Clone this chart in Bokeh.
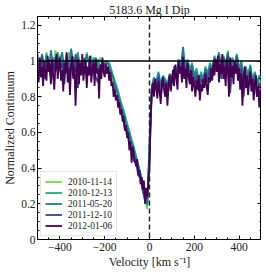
from bokeh.plotting import figure
from bokeh.models import Span, LinearAxis, Legend, LegendItem, Range1d, FixedTicker
from bokeh.embed import file_html
from bokeh.resources import INLINE

VELOCITY_COARSE = list(range(-500, 510, 10))
VELOCITY_FINE = list(range(-500, 505, 5))

DATES = ["2010-11-14", "2010-12-13", "2011-05-20", "2011-12-10", "2012-01-06"]
COLORS = ["#7ad151", "#22a884", "#2a788e", "#414487", "#440154"]

FLUX_2010_11_14 = [
    1.04, 0.97, 1.01, 0.93, 1.05, 0.98, 1.02, 0.95, 1.06, 0.99,
    1.03, 0.96, 1.00, 0.94, 1.05, 0.97, 1.02, 0.98, 1.04, 0.95,
    1.01, 0.97, 1.05, 0.99, 1.03, 0.94, 1.00, 0.96, 1.02, 0.97,
    0.99, 0.95, 0.97, 0.92, 0.88, 0.84, 0.80, 0.75, 0.71, 0.67,
    0.62, 0.58, 0.54, 0.49, 0.45, 0.40, 0.35, 0.29, 0.23, 0.17,
    0.48, 0.84, 0.90, 0.86, 0.92, 0.85, 0.90, 0.88, 0.84, 0.91,
    0.89, 0.96, 0.92, 1.00, 0.96, 1.03, 0.95, 0.99, 0.92, 0.96,
    0.89, 0.93, 0.87, 0.91, 0.89, 0.94, 0.90, 0.97, 0.93, 1.01,
    0.97, 1.04, 0.94, 1.01, 0.98, 1.06, 0.92, 0.99, 0.96, 1.03,
    0.93, 0.98, 0.88, 0.94, 0.90, 0.96, 0.87, 0.92, 0.86, 0.91,
    0.87,
]
FLUX_2010_12_13 = [
    1.03, 0.97, 1.00, 0.95, 1.04, 0.99, 0.96, 1.02, 0.97, 1.05,
    0.98, 1.01, 0.96, 1.04, 0.99, 0.95, 1.02, 0.98, 1.05, 0.96,
    1.00, 0.97, 1.03, 0.99, 0.96, 1.02, 0.98, 1.01, 0.97, 0.99,
    1.00, 0.98, 0.99, 0.95, 0.91, 0.87, 0.83, 0.78, 0.74, 0.70,
    0.65, 0.61, 0.56, 0.52, 0.47, 0.42, 0.37, 0.32, 0.25, 0.19,
    0.50, 0.86, 0.91, 0.88, 0.94, 0.87, 0.92, 0.90, 0.87, 0.92,
    0.91, 0.96, 0.93, 1.00, 0.96, 1.04, 0.97, 1.01, 0.95, 0.99,
    0.92, 0.96, 0.89, 0.94, 0.90, 0.97, 0.93, 0.99, 0.95, 1.03,
    0.98, 1.05, 0.96, 1.03, 0.99, 1.04, 0.95, 1.02, 0.98, 1.04,
    0.96, 1.00, 0.91, 0.97, 0.92, 0.98, 0.89, 0.94, 0.88, 0.92,
    0.90,
]
FLUX_2011_05_20 = [
    1.01, 0.95, 1.04, 0.97, 1.00, 0.94, 1.06, 0.98, 1.02, 0.96,
    1.00, 1.05, 0.95, 1.02, 0.97, 1.07, 0.99, 0.94, 1.03, 0.97,
    1.01, 0.95, 1.04, 0.98, 1.00, 0.95, 1.02, 0.97, 0.94, 0.99,
    0.96, 1.00, 0.97, 0.93, 0.90, 0.85, 0.81, 0.76, 0.72, 0.67,
    0.63, 0.58, 0.54, 0.50, 0.45, 0.41, 0.36, 0.31, 0.24, 0.20,
    0.55, 0.84, 0.90, 0.87, 0.93, 0.86, 0.91, 0.89, 0.86, 0.93,
    0.90, 0.97, 0.94, 1.01, 0.97, 1.08, 0.95, 1.00, 0.94, 0.98,
    0.90, 0.94, 0.88, 0.92, 0.89, 0.96, 0.91, 0.98, 0.94, 1.02,
    0.97, 1.04, 0.95, 1.02, 0.98, 1.05, 0.93, 1.01, 0.97, 1.03,
    0.95, 0.99, 0.90, 0.96, 0.91, 0.97, 0.88, 0.93, 0.87, 0.91,
    0.88,
]
FLUX_2011_12_10 = [
    0.98, 0.92, 1.03, 0.90, 0.97, 1.01, 0.89, 0.99, 0.94, 1.02,
    0.95, 0.99, 0.87, 1.03, 0.94, 0.98, 0.91, 1.04, 0.85, 0.97,
    0.93, 1.02, 0.90, 0.98, 0.95, 1.00, 0.91, 0.88, 0.96, 0.94,
    0.99, 0.93, 0.95, 0.89, 0.86, 0.80, 0.78, 0.71, 0.69, 0.62,
    0.60, 0.54, 0.51, 0.44, 0.43, 0.36, 0.34, 0.27, 0.22, 0.24,
    0.46, 0.82, 0.87, 0.84, 0.91, 0.80, 0.89, 0.86, 0.80, 0.91,
    0.87, 0.96, 0.90, 0.98, 0.94, 1.03, 0.92, 0.98, 0.88, 0.95,
    0.86, 0.92, 0.83, 0.90, 0.86, 0.94, 0.88, 0.96, 0.91, 1.01,
    0.95, 1.03, 0.90, 1.00, 0.95, 1.03, 0.82, 0.98, 0.93, 1.02,
    0.89, 0.96, 0.80, 0.92, 0.86, 0.95, 0.83, 0.90, 0.80, 0.88,
    0.82,
]
FLUX_2012_01_06 = [
    0.95, 0.88, 1.02, 0.91, 0.97, 0.86, 1.00, 0.93, 0.89, 1.03,
    0.94, 0.99, 0.87, 1.01, 0.92, 0.84, 0.98, 1.04, 0.90, 0.96,
    1.02, 0.89, 0.95, 0.83, 0.99, 0.93, 1.05, 0.88, 0.96, 0.81,
    0.98, 1.03, 0.90, 0.97, 0.75, 0.94, 1.01, 0.87, 0.99, 0.92,
    1.04, 0.89, 0.96, 1.00, 0.85, 0.97, 0.92, 1.03, 0.88, 0.95,
    0.99, 0.86, 1.01, 0.93, 0.96, 0.79, 0.98, 0.90, 1.02, 0.94,
    0.91, 0.98, 0.93, 0.97, 0.89, 0.94, 0.86, 0.88, 0.80, 0.84,
    0.78, 0.81, 0.74, 0.77, 0.70, 0.73, 0.66, 0.69, 0.61, 0.64,
    0.57, 0.60, 0.50, 0.55, 0.43, 0.52, 0.47, 0.44, 0.41, 0.45,
    0.36, 0.39, 0.31, 0.35, 0.28, 0.33, 0.20, 0.29, 0.24, 0.32,
    0.40, 0.68, 0.82, 0.88, 0.80, 0.90, 0.85, 0.79, 0.89, 0.83,
    0.76, 0.87, 0.91, 0.84, 0.80, 0.88, 0.75, 0.86, 0.92, 0.83,
    0.89, 0.95, 0.86, 0.98, 0.91, 0.84, 1.00, 0.93, 0.97, 0.88,
    1.02, 0.90, 0.96, 0.85, 0.99, 0.92, 0.87, 0.95, 0.83, 0.91,
    0.86, 0.80, 0.89, 0.84, 0.92, 0.78, 0.87, 0.83, 0.90, 0.85,
    0.93, 0.86, 0.81, 0.91, 0.88, 0.96, 0.89, 0.99, 0.92, 1.01,
    0.94, 1.03, 0.88, 0.98, 0.93, 1.04, 0.90, 0.97, 0.86, 1.01,
    0.95, 0.80, 1.02, 0.91, 0.97, 0.87, 1.00, 0.93, 0.98, 0.89,
    0.96, 0.84, 0.93, 0.75, 0.90, 0.97, 0.85, 0.92, 0.81, 0.88,
    0.94, 0.83, 0.90, 0.78, 0.87, 0.92, 0.80, 0.86, 0.74, 0.84,
    0.79,
]
SERIES = [
    (VELOCITY_COARSE, FLUX_2010_11_14),
    (VELOCITY_COARSE, FLUX_2010_12_13),
    (VELOCITY_COARSE, FLUX_2011_05_20),
    (VELOCITY_COARSE, FLUX_2011_12_10),
    (VELOCITY_FINE, FLUX_2012_01_06),
]

X_TICKS = [-400, -200, 0, 200, 400]
X_MINOR = list(range(-500, 501, 50))
Y_TICKS = [0.0, 0.2, 0.4, 0.6, 0.8, 1.0, 1.2]
Y_MINOR = [i * 0.05 for i in range(0, 26)]

FONT = "Liberation Serif"

p = figure(frame_width=224, frame_height=223,
           x_range=Range1d(-500, 500), y_range=Range1d(0, 1.25),
           output_backend="svg", toolbar_location=None,
           min_border_left=0, min_border_right=0, min_border_top=0, min_border_bottom=0,
           title="5183.6 Mg I Dip")
p.title.text_font = FONT
p.title.text_font_size = "12px"
p.title.text_font_style = "normal"
p.title.text_color = "#222222"
p.title.align = "center"
p.title.standoff = 0
p.title.offset = 0
p.grid.visible = False
p.outline_line_color = "black"
p.outline_line_width = 1
p.background_fill_color = "white"
p.border_fill_color = "white"

xt = FixedTicker(ticks=X_TICKS, minor_ticks=X_MINOR)
yt = FixedTicker(ticks=Y_TICKS, minor_ticks=Y_MINOR)

def style_axis(ax, labels=True):
    ax.major_tick_in = 4
    ax.major_tick_out = 0
    ax.minor_tick_in = 2
    ax.minor_tick_out = 0
    ax.axis_line_color = "black"
    ax.major_tick_line_color = "black"
    ax.minor_tick_line_color = "black"
    if labels:
        ax.major_label_text_font = FONT
        ax.major_label_text_font_size = "11.5px"
        ax.major_label_text_color = "#222222"
        ax.axis_label_text_font = FONT
        ax.axis_label_text_font_size = "12px"
        ax.axis_label_text_font_style = "normal"
        ax.axis_label_text_color = "#222222"
        ax.major_label_standoff = 2
        ax.axis_label_standoff = 1
    else:
        ax.major_label_text_font_size = "0px"
        ax.major_label_text_color = None
        ax.major_label_standoff = 0

p.xaxis.ticker = xt
p.yaxis.ticker = yt
p.xaxis.axis_label = "Velocity [km s\u207b\u00b9]"
p.yaxis.axis_label = "Normalized Continuum"
p.xaxis.major_label_overrides = {-400: "\u2212400", -200: "\u2212200"}
style_axis(p.xaxis[0])
style_axis(p.yaxis[0])
p.xaxis[0].major_label_standoff = 3

top = LinearAxis(ticker=xt)
right = LinearAxis(ticker=yt)
style_axis(top, labels=False)
style_axis(right, labels=False)
p.add_layout(top, "above")
p.add_layout(right, "right")

items = []
for date, color, (vel, flux) in zip(DATES, COLORS, SERIES):
    r = p.line(vel, flux, line_color=color, line_width=1.8)
    items.append(LegendItem(label=date, renderers=[r]))

p.add_layout(Span(location=1.0, dimension="width", line_color="black", line_width=1.5))
p.add_layout(Span(location=0, dimension="height", line_color="#222222", line_width=1.5, line_dash="5 3"))

legend = Legend(items=items, location="bottom_left")
legend.label_text_font = FONT
legend.label_text_font_size = "9.5px"
legend.label_text_color = "#222222"
legend.glyph_width = 17
legend.glyph_height = 11
legend.label_height = 11
legend.label_standoff = 6
legend.spacing = 0
legend.padding = 4
legend.margin = 3
legend.border_line_color = "#cccccc"
legend.border_line_width = 1
legend.background_fill_alpha = 0.85
p.add_layout(legend)

open("out.html", "w").write(file_html(p, INLINE))
